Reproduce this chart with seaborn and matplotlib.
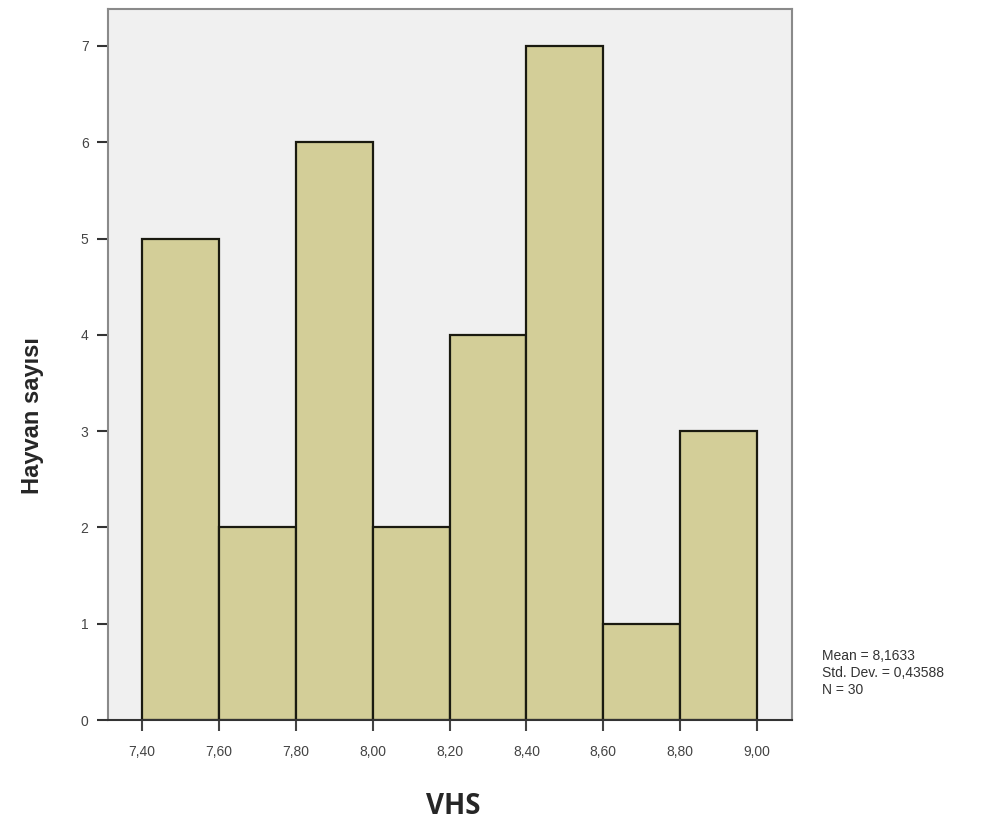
import matplotlib
matplotlib.use("Agg")
import matplotlib.pyplot as plt
import seaborn as sns
import numpy as np

bin_edges = [7.40, 7.60, 7.80, 8.00, 8.20, 8.40, 8.60, 8.80, 9.00]
counts = [5, 2, 6, 2, 4, 7, 1, 3]
x_tick_labels = ["7,40", "7,60", "7,80", "8,00", "8,20", "8,40", "8,60", "8,80", "9,00"]
y_ticks = [0, 1, 2, 3, 4, 5, 6, 7]
stats_text = "Mean = 8,1633\nStd. Dev. = 0,43588\nN = 30"

sns.set_style("white")
plt.rcParams['font.family'] = ['Liberation Sans', 'DejaVu Sans']

fig = plt.figure(figsize=(9.89, 8.27), dpi=100)
ax = fig.add_axes([108/989, 1-720/827, (792-108)/989, (720-9)/827])
ax.set_facecolor("#F0F0F0")

centers = [(a + b) / 2 for a, b in zip(bin_edges[:-1], bin_edges[1:])]
sns.histplot(x=centers, weights=counts, bins=bin_edges, ax=ax,
             color="#D3CE98", alpha=1, edgecolor="#1a1a10", linewidth=1.6)

ax.set_xlim(7.3115, 9.091)
ax.set_ylim(0, 7.384)
ax.set_xticks(bin_edges)
ax.set_xticklabels(x_tick_labels)
ax.set_yticks(y_ticks)
ax.tick_params(axis='both', direction='out', length=8, width=1.5, colors='#333333',
               labelsize=10, labelcolor='#444444', bottom=True, left=True)
ax.tick_params(axis='x', pad=10, colors='#444444', labelcolor='#444444')
ax.tick_params(axis='y', pad=6)
for s in ax.spines.values():
    s.set_visible(True)
    s.set_color("#8a8a8a")
    s.set_linewidth(1.5)
ax.spines['bottom'].set_color("#333333")

ax.set_xlabel("")
ax.set_ylabel("")
fig.text(453/989, 1-806/827, "VHS", ha='center', va='center', fontsize=20,
         fontweight='bold', family=['Open Sans', 'DejaVu Sans'])
fig.text(33/989, 1-416/827, "Hayvan sayısı", ha='center', va='center', rotation=90,
         fontsize=17, fontweight='bold')
fig.text(822/989, 1-673/827, stats_text, ha='left', va='center', fontsize=10,
         color='#333333', linespacing=1.25)

fig.savefig("out.png", dpi=100)
